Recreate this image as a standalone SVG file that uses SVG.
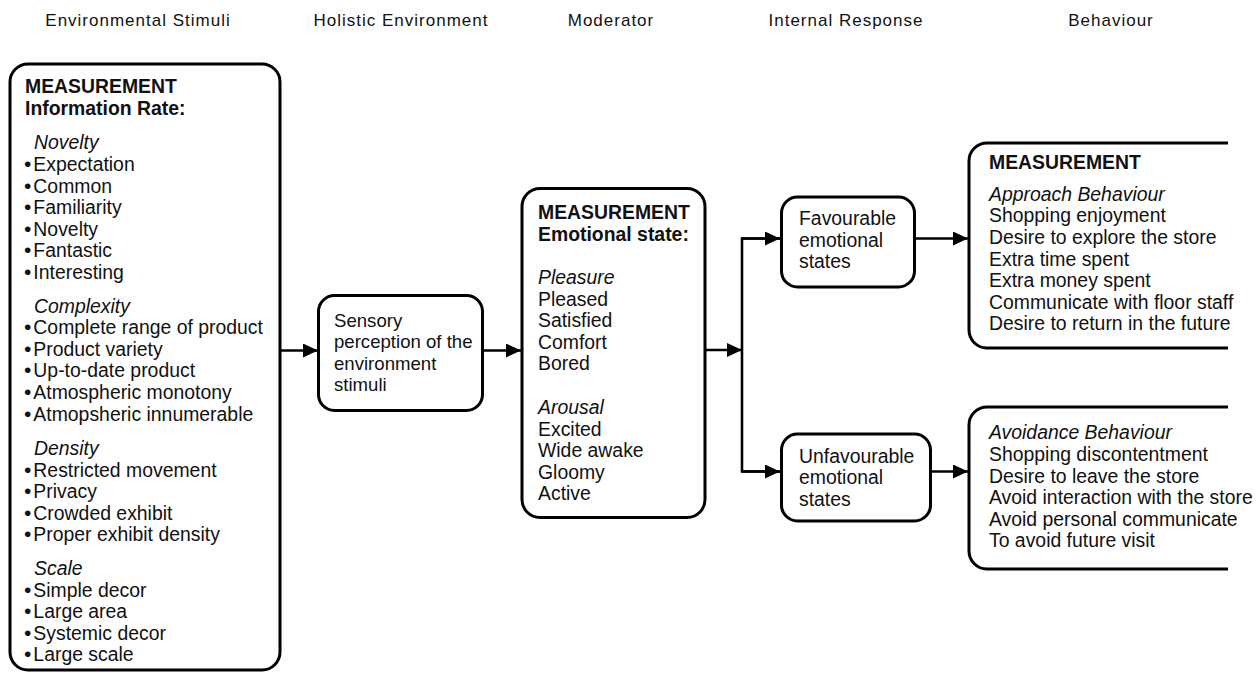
<svg xmlns="http://www.w3.org/2000/svg" width="1258" height="673" viewBox="0 0 1258 673">
<defs>
<style>
.t{font-family:"Liberation Sans",Arial,sans-serif;font-size:19.4px;fill:#111}
.b{font-weight:bold}
.i{font-style:italic}
.s{font-size:18.6px}
.d{font-size:21px}
.h{font-family:"Liberation Sans",Arial,sans-serif;font-size:17px;fill:#111;text-anchor:middle;letter-spacing:1px}
.box{fill:#fff;stroke:#000;stroke-width:3}
.c{fill:none;stroke:#000;stroke-width:2.6}
</style>
<marker id="ah" markerUnits="userSpaceOnUse" markerWidth="16" markerHeight="14" refX="15" refY="7" orient="auto">
<path d="M0,0 L15,7 L0,14 Z" fill="#000"/>
</marker>
</defs>
<rect width="1258" height="673" fill="#fff"/>

<g id="headers">
<text class="h" x="138" y="26">Environmental Stimuli</text>
<text class="h" x="401" y="26">Holistic Environment</text>
<text class="h" x="611" y="26">Moderator</text>
<text class="h" x="846" y="26">Internal Response</text>
<text class="h" x="1111" y="26">Behaviour</text>
</g>

<g id="connectors">
<line class="c" x1="281" y1="350.5" x2="318" y2="350.5" marker-end="url(#ah)"/>
<line class="c" x1="483" y1="350.5" x2="521" y2="350.5" marker-end="url(#ah)"/>
<line class="c" x1="705" y1="350" x2="742" y2="350" marker-end="url(#ah)"/>
<polyline class="c" points="781,238.5 742,238.5 742,471.5 781,471.5"/>
<line class="c" x1="742" y1="238.5" x2="780" y2="238.5" marker-end="url(#ah)"/>
<line class="c" x1="742" y1="471.5" x2="780" y2="471.5" marker-end="url(#ah)"/>
<line class="c" x1="915" y1="238.5" x2="968" y2="238.5" marker-end="url(#ah)"/>
<line class="c" x1="931" y1="471.5" x2="968" y2="471.5" marker-end="url(#ah)"/>
</g>

<g id="stimuli">
<rect class="box" x="10" y="64" width="270" height="606" rx="18"/>
<text class="t b" x="25" y="93">MEASUREMENT</text>
<text class="t b" x="25" y="115">Information Rate:</text>
<text class="t i" x="34" y="149">Novelty</text>
<text class="t" x="24" y="171"><tspan class="d">•</tspan><tspan dx="2">Expectation</tspan></text>
<text class="t" x="24" y="192.6"><tspan class="d">•</tspan><tspan dx="2">Common</tspan></text>
<text class="t" x="24" y="214.2"><tspan class="d">•</tspan><tspan dx="2">Familiarity</tspan></text>
<text class="t" x="24" y="235.8"><tspan class="d">•</tspan><tspan dx="2">Novelty</tspan></text>
<text class="t" x="24" y="257.4"><tspan class="d">•</tspan><tspan dx="2">Fantastic</tspan></text>
<text class="t" x="24" y="279"><tspan class="d">•</tspan><tspan dx="2">Interesting</tspan></text>
<text class="t i" x="34" y="312.7">Complexity</text>
<text class="t" x="24" y="334.2"><tspan class="d">•</tspan><tspan dx="2">Complete range of product</tspan></text>
<text class="t" x="24" y="355.8"><tspan class="d">•</tspan><tspan dx="2">Product variety</tspan></text>
<text class="t" x="24" y="377.4"><tspan class="d">•</tspan><tspan dx="2">Up-to-date product</tspan></text>
<text class="t" x="24" y="399"><tspan class="d">•</tspan><tspan dx="2">Atmospheric monotony</tspan></text>
<text class="t" x="24" y="420.6"><tspan class="d">•</tspan><tspan dx="2">Atmopsheric innumerable</tspan></text>
<text class="t i" x="34" y="455">Density</text>
<text class="t" x="24" y="476.6"><tspan class="d">•</tspan><tspan dx="2">Restricted movement</tspan></text>
<text class="t" x="24" y="498.2"><tspan class="d">•</tspan><tspan dx="2">Privacy</tspan></text>
<text class="t" x="24" y="519.8"><tspan class="d">•</tspan><tspan dx="2">Crowded exhibit</tspan></text>
<text class="t" x="24" y="541.4"><tspan class="d">•</tspan><tspan dx="2">Proper exhibit density</tspan></text>
<text class="t i" x="34" y="575">Scale</text>
<text class="t" x="24" y="596.6"><tspan class="d">•</tspan><tspan dx="2">Simple decor</tspan></text>
<text class="t" x="24" y="618.2"><tspan class="d">•</tspan><tspan dx="2">Large area</tspan></text>
<text class="t" x="24" y="639.8"><tspan class="d">•</tspan><tspan dx="2">Systemic decor</tspan></text>
<text class="t" x="24" y="661.4"><tspan class="d">•</tspan><tspan dx="2">Large scale</tspan></text>
</g>

<g id="sensory">
<rect class="box" x="318.5" y="295.5" width="164" height="115" rx="16"/>
<text class="t s" x="334" y="326.7">Sensory</text>
<text class="t s" x="334" y="348.3">perception of the</text>
<text class="t s" x="334" y="369.6">environment</text>
<text class="t s" x="334" y="391">stimuli</text>
</g>

<g id="moderator">
<rect class="box" x="522" y="188.5" width="183" height="329" rx="18"/>
<text class="t b" x="538" y="219.3">MEASUREMENT</text>
<text class="t b" x="538" y="240.5">Emotional state:</text>
<text class="t i" x="538" y="283.5">Pleasure</text>
<text class="t" x="538" y="305.5">Pleased</text>
<text class="t" x="538" y="327">Satisfied</text>
<text class="t" x="538" y="348.6">Comfort</text>
<text class="t" x="538" y="370.2">Bored</text>
<text class="t i" x="538" y="413.5">Arousal</text>
<text class="t" x="538" y="435.5">Excited</text>
<text class="t" x="538" y="457">Wide awake</text>
<text class="t" x="538" y="478.6">Gloomy</text>
<text class="t" x="538" y="500.2">Active</text>
</g>

<g id="favourable">
<rect class="box" x="781.5" y="197" width="133" height="90" rx="16"/>
<text class="t" x="799" y="225">Favourable</text>
<text class="t" x="799" y="246.6">emotional</text>
<text class="t" x="799" y="268.2">states</text>
</g>

<g id="unfavourable">
<rect class="box" x="781.5" y="434" width="149" height="87" rx="16"/>
<text class="t" x="799" y="462.7">Unfavourable</text>
<text class="t" x="799" y="484.3">emotional</text>
<text class="t" x="799" y="505.9">states</text>
</g>

<g id="approach">
<path class="box" d="M1228,143 L987,143 A18,18 0 0 0 969,161 L969,330 A18,18 0 0 0 987,348 L1228,348"/>
<text class="t b" x="989" y="169.3">MEASUREMENT</text>
<text class="t i" x="989" y="200.7">Approach Behaviour</text>
<text class="t" x="989" y="222.3">Shopping enjoyment</text>
<text class="t" x="989" y="243.9">Desire to explore the store</text>
<text class="t" x="989" y="265.5">Extra time spent</text>
<text class="t" x="989" y="287.1">Extra money spent</text>
<text class="t" x="989" y="308.7">Communicate with floor staff</text>
<text class="t" x="989" y="330.3">Desire to return in the future</text>
</g>

<g id="avoidance">
<path class="box" d="M1228,407 L987,407 A18,18 0 0 0 969,425 L969,551 A18,18 0 0 0 987,569 L1228,569"/>
<text class="t i" x="989" y="439.3">Avoidance Behaviour</text>
<text class="t" x="989" y="460.9">Shopping discontentment</text>
<text class="t" x="989" y="482.5">Desire to leave the store</text>
<text class="t" x="989" y="504.1">Avoid interaction with the store</text>
<text class="t" x="989" y="525.7">Avoid personal communicate</text>
<text class="t" x="989" y="547.3">To avoid future visit</text>
</g>
</svg>
